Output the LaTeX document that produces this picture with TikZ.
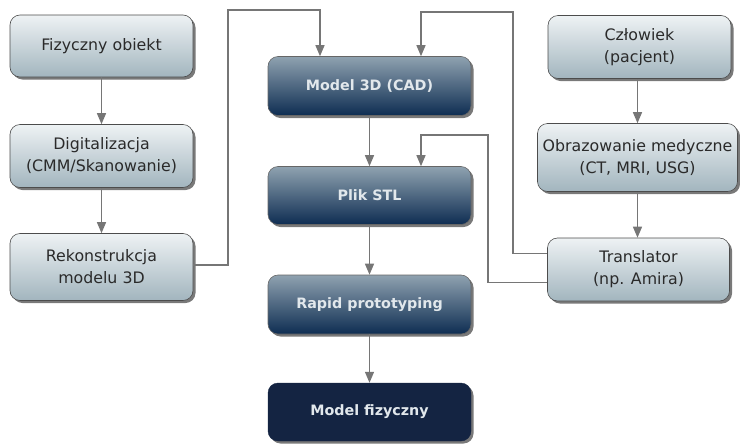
\documentclass[tikz,border=0pt]{standalone}
\usepackage{fontspec}
\setmainfont{DejaVu Sans}
\usetikzlibrary{arrows.meta,shadows}
\definecolor{lighttop}{HTML}{EEF2F4}
\definecolor{lightbot}{HTML}{A2B5BE}
\definecolor{darktop}{HTML}{8FA2B0}
\definecolor{darkbot}{HTML}{0E2D52}
\definecolor{navy}{HTML}{142442}
\definecolor{linegray}{HTML}{767676}
\definecolor{txtlight}{HTML}{E2E8EC}
\definecolor{txtdark}{HTML}{2A2A2A}
\tikzset{
  base/.style={rounded corners=10pt, align=center, inner sep=0pt,
    font=\fontsize{15.8}{22}\selectfont,
    drop shadow={shadow xshift=2.5pt, shadow yshift=-2.5pt, fill=black!75, opacity=0.7}},
  lightbox/.style={base, draw=black!70, line width=0.6pt, top color=lighttop, bottom color=lightbot, text=txtdark},
  darkbox/.style={base, draw=black!60, line width=0.6pt, top color=darktop, bottom color=darkbot, text=txtlight,
    font=\fontsize{14.3}{21}\selectfont\bfseries},
  navybox/.style={base, draw=navy, fill=navy, text=txtlight, font=\fontsize{14.3}{21}\selectfont\bfseries},
  arr/.style={draw=linegray, line width=1.2pt, -{Triangle[length=11pt,width=9pt]}, color=linegray}
}
\begin{document}
\begin{tikzpicture}[x=1pt,y=-1pt]
\useasboundingbox (0,0) rectangle (740,445);
% left column
\node[lightbox, minimum width=183pt, minimum height=62pt] (fiz) at (101.5,46) {Fizyczny obiekt};
\node[lightbox, minimum width=183pt, minimum height=63pt] (dig) at (101.5,156) {Digitalizacja\\(CMM/Skanowanie)};
\node[lightbox, minimum width=183pt, minimum height=67pt] (rek) at (101.5,267) {Rekonstrukcja\\modelu 3D};
% middle column
\node[darkbox, minimum width=203pt, minimum height=59pt] (m3d) at (369.5,86) {Model 3D (CAD)};
\node[darkbox, minimum width=203pt, minimum height=58pt] (stl) at (369.5,195.5) {Plik STL};
\node[darkbox, minimum width=203pt, minimum height=59pt] (rap) at (369.5,304.5) {Rapid prototyping};
\node[navybox, minimum width=203pt, minimum height=58pt] (mf) at (369.5,412) {Model fizyczny};
% right column
\node[lightbox, minimum width=183pt, minimum height=63pt] (czl) at (639.5,47) {Człowiek\\(pacjent)};
\node[lightbox, minimum width=200pt, minimum height=68pt] (obr) at (637.5,157.5) {Obrazowanie medyczne\\(CT, MRI, USG)};
\node[lightbox, minimum width=182pt, minimum height=63pt] (tra) at (638.5,269.5) {Translator\\(np. Amira)};
% helper coordinates
\coordinate (r1) at (228,10);
\coordinate (r2) at (320,10);
\coordinate (t1) at (513,12);
\coordinate (t2) at (421,12);
\coordinate (u1) at (488,135);
\coordinate (u2) at (421,135);
% connectors
\draw[arr] (fiz) -- (dig);
\draw[arr] (dig) -- (rek);
\draw[arr] (m3d) -- (stl);
\draw[arr] (stl) -- (rap);
\draw[arr] (rap) -- (mf);
\draw[arr] (czl.south -| obr.north) -- (obr);
\draw[arr] (obr) -- (obr.south |- tra.north);
\draw[arr] ([yshift=2pt]rek.east) -| (r1) -- (r2) -- (r2 |- m3d.north);
\draw[arr] ([yshift=16pt]tra.west) -| (t1) -- (t2) -- (t2 |- m3d.north);
\draw[arr] ([yshift=-13pt]tra.west) -| (u1) -- (u2) -- (u2 |- stl.north);
\end{tikzpicture}
\end{document}
